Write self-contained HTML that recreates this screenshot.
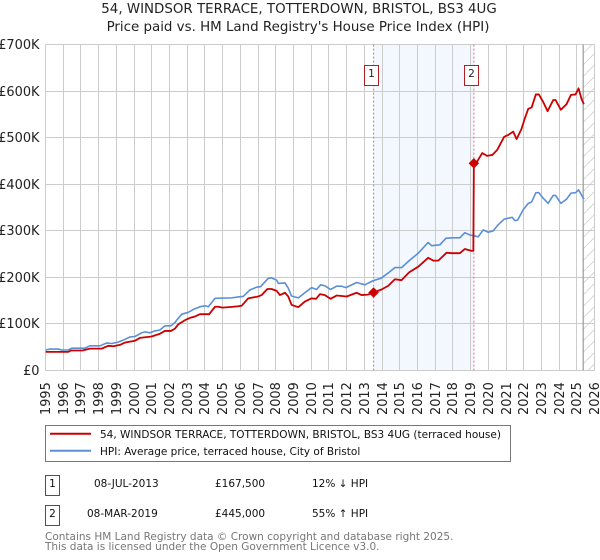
<!DOCTYPE html>
<html lang="en">
<head>
<meta charset="utf-8">
<title>54, Windsor Terrace price chart</title>
<style>
html,body{margin:0;padding:0;background:#fff;width:600px;height:560px;overflow:hidden}
svg{display:block}
text{font-family:"DejaVu Sans","Liberation Sans",sans-serif;fill:#222}
.title{font-size:13.4px}
.tick{font-size:12.9px}
.leg,.tb{font-size:10.5px;fill:#111}
.foot{font-size:10.5px;fill:#777}
</style>
</head>
<body>
<svg id="chart" width="600" height="560" viewBox="0 0 600 560" xmlns="http://www.w3.org/2000/svg">
<defs>
<pattern id="hatch" patternUnits="userSpaceOnUse" width="11.5" height="11.5" patternTransform="translate(0 4)">
<line x1="0" y1="11.5" x2="11.5" y2="0" stroke="#cfcfcf" stroke-width="0.8"/>
</pattern>
</defs>
<text class="title" x="299" y="13" text-anchor="middle">54, WINDSOR TERRACE, TOTTERDOWN, BRISTOL, BS3 4UG</text>
<text class="title" x="298" y="31" text-anchor="middle">Price paid vs. HM Land Registry's House Price Index (HPI)</text>
<g id="plot"></g>

<g>
<rect x="45.5" y="425.5" width="465" height="36" fill="#fff" stroke="#777" stroke-width="1"/>
<line x1="50" y1="433.7" x2="91" y2="433.7" stroke="#cc0000" stroke-width="2"/>
<text class="leg" x="100" y="438">54, WINDSOR TERRACE, TOTTERDOWN, BRISTOL, BS3 4UG (terraced house)</text>
<line x1="50" y1="450.7" x2="91" y2="450.7" stroke="#5b8fd6" stroke-width="2"/>
<text class="leg" x="100" y="455">HPI: Average price, terraced house, City of Bristol</text>
</g>

<g>
<rect x="45.5" y="475.5" width="14" height="20" fill="#fff" stroke="#c02020" stroke-width="1"/>
<text class="tb" x="52.5" y="487" text-anchor="middle">1</text>
<text class="tb" x="94" y="487">08-JUL-2013</text>
<text class="tb" x="215" y="487">£167,500</text>
<text class="tb" x="312" y="487">12% ↓ HPI</text>
<rect x="45.5" y="505.5" width="14" height="20" fill="#fff" stroke="#c02020" stroke-width="1"/>
<text class="tb" x="52.5" y="517" text-anchor="middle">2</text>
<text class="tb" x="87" y="517">08-MAR-2019</text>
<text class="tb" x="215" y="517">£445,000</text>
<text class="tb" x="312" y="517">55% ↑ HPI</text>
</g>

<text class="foot" x="45" y="540">Contains HM Land Registry data © Crown copyright and database right 2025.</text>
<text class="foot" x="45" y="550">This data is licensed under the Open Government Licence v3.0.</text>
</svg>

<script>
const yearTicks = [1995,1996,1997,1998,1999,2000,2001,2002,2003,2004,2005,2006,2007,2008,2009,2010,2011,2012,2013,2014,2015,2016,2017,2018,2019,2020,2021,2022,2023,2024,2025,2026];
const valueTicks = [0,100,200,300,400,500,600,700];
const valueTickLabels = ["£0","£100K","£200K","£300K","£400K","£500K","£600K","£700K"];

const hpiDates = [1995.01,1995.25,1995.72,1995.91,1996.29,1996.48,1997.23,1997.51,1998.08,1998.45,1998.74,1999.11,1999.49,1999.77,2000.05,2000.43,2000.62,2000.90,2001.18,2001.46,2001.74,2002.08,2002.31,2002.40,2002.69,2003.06,2003.34,2003.72,2004.00,2004.19,2004.57,2005.51,2005.88,2006.16,2006.54,2006.92,2007.14,2007.57,2007.76,2008.05,2008.14,2008.52,2008.70,2008.89,2009.27,2009.64,2010.02,2010.30,2010.53,2010.77,2011.09,2011.43,2011.72,2011.96,2012.56,2013.03,2013.50,2013.93,2014.33,2014.72,2015.10,2015.53,2016.04,2016.60,2016.80,2017.26,2017.60,2017.92,2018.39,2018.67,2018.96,2019.24,2019.42,2019.71,2019.99,2020.27,2020.55,2020.89,2021.34,2021.50,2021.65,2021.96,2022.25,2022.44,2022.68,2022.85,2023.09,2023.37,2023.66,2023.79,2024.09,2024.41,2024.66,2024.92,2025.09,2025.39];
const hpiValues = [44,46,46,44,44,48,48,53,53,59,58,61,67,72,73,81,83,81,85,87,96,96,103,108,121,125,131,137,139,137,155,156,158,159,173,179,180,198,199,194,187,188,177,160,156,167,178,174,184,182,174,181,181,178,189,184,193,198,209,221,221,236,252,275,268,270,284,285,285,296,291,289,287,302,297,300,313,325,329,322,323,345,359,362,382,382,370,359,376,376,359,368,381,382,388,368];

const paidDates = [1995.01,1996.29,1996.44,1997.08,1997.51,1998.17,1998.54,1998.83,1999.20,1999.49,2000.05,2000.33,2000.99,2001.46,2001.74,2002.08,2002.31,2002.49,2002.87,2003.15,2003.44,2003.72,2004.24,2004.57,2004.75,2005.00,2005.60,2005.88,2006.07,2006.44,2007.01,2007.20,2007.52,2007.76,2008.05,2008.23,2008.52,2008.70,2008.89,2009.27,2009.64,2010.02,2010.27,2010.49,2010.77,2011.09,2011.43,2012.00,2012.56,2012.84,2013.20,2013.52,2013.97,2014.35,2014.72,2015.10,2015.53,2016.04,2016.60,2016.89,2017.17,2017.64,2017.92,2018.39,2018.67,2019.05,2019.15,2019.18,2019.37,2019.65,2019.93,2020.22,2020.50,2020.89,2021.12,2021.40,2021.59,2021.87,2022.06,2022.25,2022.44,2022.68,2022.85,2023.09,2023.34,2023.66,2023.79,2024.09,2024.41,2024.66,2024.92,2025.09,2025.26,2025.39];
const paidValues = [40,40,43,43,47,47,53,52,55,60,64,70,73,79,85,85,90,99,108,113,116,121,121,137,137,135,137,138,139,155,159,162,175,175,171,162,167,159,141,136,148,155,154,164,162,154,161,159,167,162,163,167.5,174,182,196,194,211,223,242,236,236,253,252,252,261,257,257,445,449,467,461,463,474,502,506,513,497,519,542,562,565,593,593,577,557,581,581,560,572,592,593,606,583,572];

const saleLabels = ["1","2"];
const saleDates = [2013.52,2019.18];
const saleValues = [167.5,445];
const forecastStart = 2025.35;

const NS = "http://www.w3.org/2000/svg";
const plot = document.getElementById("plot");
const LEFT = 45.5, RIGHT = 594.7, TOP = 44.6, BOTTOM = 370.5;
const xScale = function (year) { return LEFT + (year - yearTicks[0]) * (RIGHT - LEFT) / (yearTicks[yearTicks.length - 1] - yearTicks[0]); };
const yScale = function (v) { return BOTTOM - v * (BOTTOM - TOP) / valueTicks[valueTicks.length - 1]; };
function make(tag, attrs, parent) {
  const el = document.createElementNS(NS, tag);
  Object.keys(attrs).forEach(function (k) { el.setAttribute(k, attrs[k]); });
  (parent || plot).appendChild(el);
  return el;
}

const band = make("rect", {x: xScale(saleDates[0]), y: TOP, width: xScale(saleDates[1]) - xScale(saleDates[0]), height: BOTTOM - TOP, fill: "#f3f7fe"});



const hatch = make("rect", {x: xScale(forecastStart), y: TOP, width: RIGHT - xScale(forecastStart), height: BOTTOM - TOP, fill: "url(#hatch)"});



yearTicks.forEach(function (yr) {
  const x = Math.round(xScale(yr) - 0.5) + 0.5;
  const line = make("line", {x1: x, x2: x, y1: TOP, y2: BOTTOM, stroke: "#cccccc", "stroke-width": 1});
  
  
  const label = make("text", {"class": "tick", "text-anchor": "start", transform: "translate(" + (x + 4.5) + ",415) rotate(-90)"});
  
  
  label.textContent = yr;
});

valueTicks.forEach(function (v, i) {
  const y = Math.round(yScale(v) - 0.5) + 0.5;
  const line = make("line", {x1: LEFT, x2: RIGHT, y1: y, y2: y, stroke: "#cccccc", "stroke-width": 1});
  
  
  const label = make("text", {"class": "tick", "text-anchor": "end", x: 39.5, y: y + 4.5});
  
  
  label.textContent = valueTickLabels[i];
});

const nowLine = make("line", {x1: xScale(forecastStart), x2: xScale(forecastStart), y1: TOP, y2: BOTTOM, stroke: "#999999", "stroke-width": 1.2});



saleDates.forEach(function (d) {
  const line = make("line", {x1: xScale(d), x2: xScale(d), y1: TOP, y2: BOTTOM, stroke: "#e8707a", "stroke-width": 1, "stroke-dasharray": "2 2"});
  
  
});

function pathOf(dates, values) {
  return dates.map(function (d, i) { return (i ? "L" : "M") + xScale(d).toFixed(2) + " " + yScale(values[i]).toFixed(2); }).join(" ");
}

const hpiLine = make("path", {d: pathOf(hpiDates, hpiValues), fill: "none", stroke: "#5b8fd6", "stroke-width": 1.6, "stroke-linejoin": "round"});



const paidLine = make("path", {d: pathOf(paidDates, paidValues), fill: "none", stroke: "#cc0000", "stroke-width": 1.8, "stroke-linejoin": "round"});



saleDates.forEach(function (d, i) {
  const cx = xScale(d), cy = yScale(saleValues[i]);
  const marker = make("polygon", {points: [cx - 5, cy, cx, cy - 5, cx + 5, cy, cx, cy + 5].join(" "), fill: "#cc0000", stroke: "#cc0000", "stroke-width": 0.5});
  
  
  const box = make("rect", {x: Math.round(cx - 7) - 2.5, y: 65.5, width: 14, height: 20, fill: "#fff", stroke: "#b02020", "stroke-width": 1});
  
  
  const num = make("text", {x: Math.round(cx - 7) + 4.5, y: 77, "text-anchor": "middle", style: "font-size:10.5px"});
  
  
  num.textContent = saleLabels[i];
});
</script>
</body>
</html>
